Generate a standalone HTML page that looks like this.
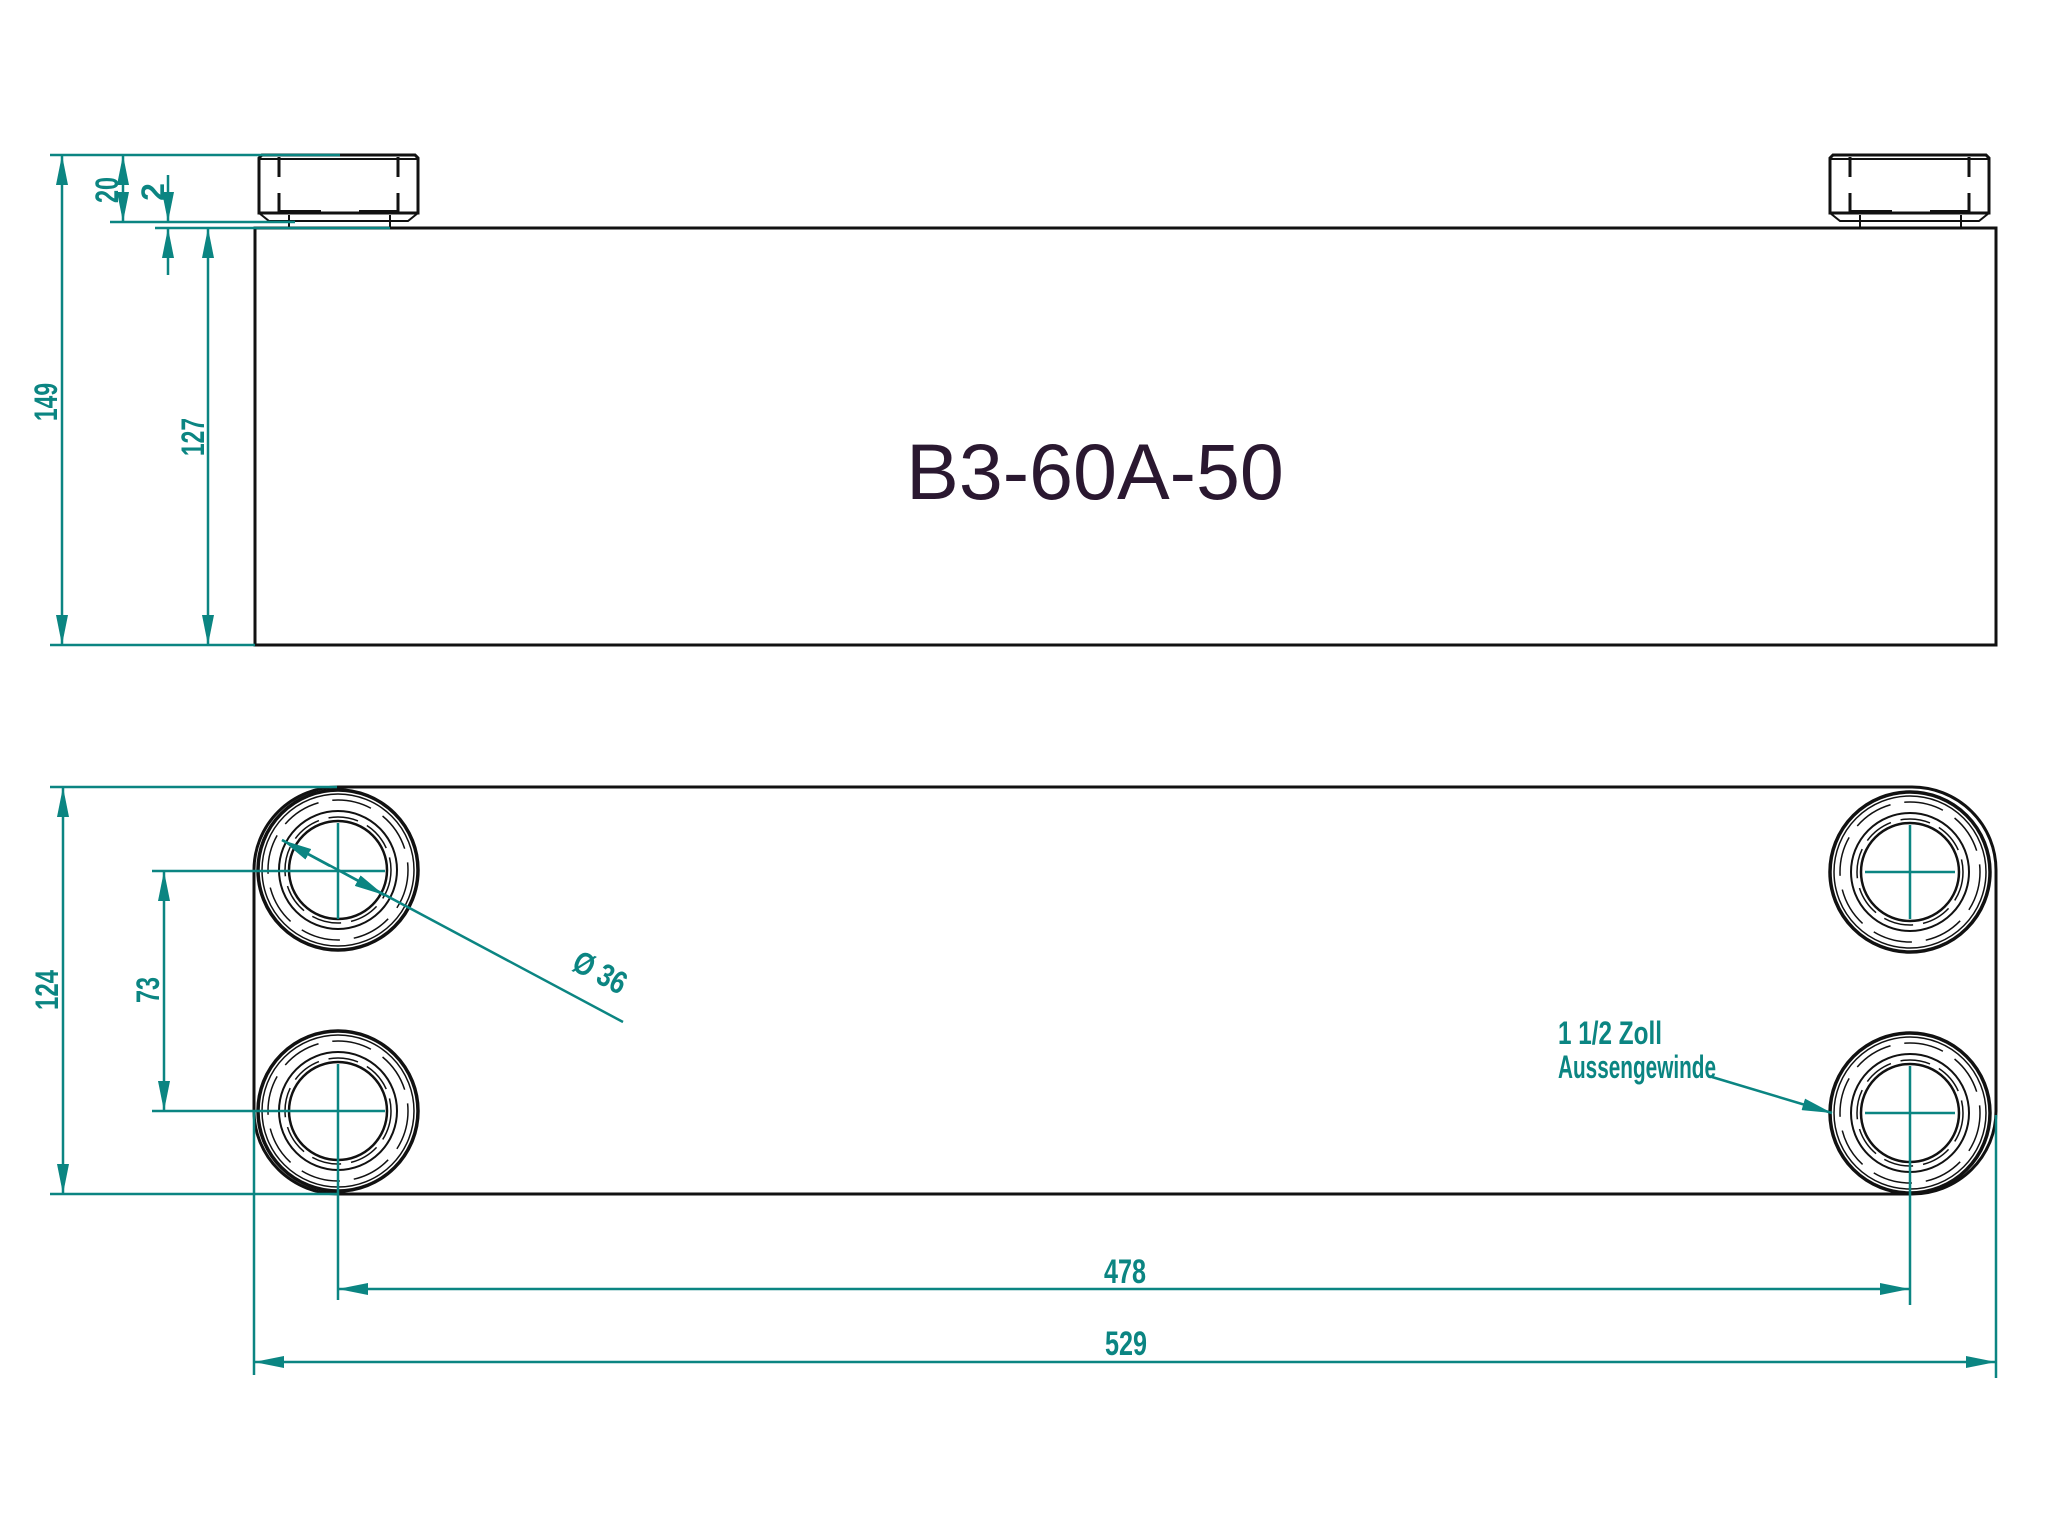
<!DOCTYPE html>
<html><head><meta charset="utf-8"><style>
html,body{margin:0;padding:0;background:#fff;}
svg{display:block;}
.t{fill:#0b8582;font-family:"Liberation Sans Narrow","Liberation Sans",sans-serif;font-weight:bold;}
</style></head><body>
<svg width="2048" height="1536" viewBox="0 0 2048 1536" xmlns="http://www.w3.org/2000/svg">
<defs>
<marker id="A" viewBox="0 0 30 12" markerWidth="30" markerHeight="12" refX="30" refY="6" orient="auto-start-reverse" markerUnits="userSpaceOnUse">
<path d="M0,0 L30,6 L0,12 Z" fill="#0b8582"/></marker>
<g id="hole">
<circle r="80" fill="none" stroke="#111" stroke-width="3.5"/>
<circle r="76" fill="none" stroke="#111" stroke-width="1.5"/>
<circle r="70" fill="none" stroke="#111" stroke-width="1.5" stroke-dasharray="40 14"/>
<circle r="59" fill="none" stroke="#111" stroke-width="2"/>
<circle r="53" fill="none" stroke="#111" stroke-width="1.5" stroke-dasharray="30 10"/>
<circle r="49" fill="none" stroke="#111" stroke-width="2.5"/>
</g>
<g id="nut">
<path d="M0,3 L3,0 L156,0 L159,3 L159,58 L0,58 Z" fill="none" stroke="#111" stroke-width="3"/>
<line x1="1" y1="4" x2="158" y2="4" stroke="#111" stroke-width="2"/>
<path d="M0,58 L10,66 L149,66 L159,58" fill="none" stroke="#111" stroke-width="2"/>
<line x1="20" y1="2" x2="20" y2="22" stroke="#111" stroke-width="3"/>
<line x1="20" y1="38" x2="20" y2="58" stroke="#111" stroke-width="3"/>
<line x1="139" y1="2" x2="139" y2="22" stroke="#111" stroke-width="3"/>
<line x1="139" y1="38" x2="139" y2="58" stroke="#111" stroke-width="3"/>
<line x1="20" y1="57" x2="62" y2="57" stroke="#111" stroke-width="4"/>
<line x1="100" y1="57" x2="139" y2="57" stroke="#111" stroke-width="4"/>
<line x1="30" y1="60" x2="30" y2="73" stroke="#111" stroke-width="2"/>
<line x1="131" y1="60" x2="131" y2="73" stroke="#111" stroke-width="2"/>
</g>
</defs>

<!-- TOP VIEW -->
<rect x="255" y="228" width="1741" height="417" fill="none" stroke="#111" stroke-width="3"/>
<use href="#nut" x="259" y="155"/>
<use href="#nut" x="1830" y="155"/>
<text x="1095" y="499" text-anchor="middle" font-family="Liberation Sans, sans-serif" font-size="79" fill="#2a1830">B3-60A-50</text>

<g stroke="#0b8582" stroke-width="2.5" fill="none">
<line x1="50" y1="155" x2="340" y2="155"/>
<line x1="110" y1="222" x2="295" y2="222"/>
<line x1="155" y1="228" x2="390" y2="228"/>
<line x1="50" y1="645" x2="255" y2="645"/>
<line x1="62" y1="155" x2="62" y2="645" marker-start="url(#A)" marker-end="url(#A)"/>
<line x1="123" y1="155" x2="123" y2="222" marker-start="url(#A)" marker-end="url(#A)"/>
<line x1="168" y1="175" x2="168" y2="222" marker-end="url(#A)"/>
<line x1="168" y1="275" x2="168" y2="228" marker-end="url(#A)"/>
<line x1="208" y1="228" x2="208" y2="645" marker-start="url(#A)" marker-end="url(#A)"/>
</g>
<text class="t" font-size="32" transform="translate(57,402) rotate(-90)" text-anchor="middle" textLength="38" lengthAdjust="spacingAndGlyphs">149</text>
<text class="t" font-size="32" transform="translate(204,437) rotate(-90)" text-anchor="middle" textLength="38" lengthAdjust="spacingAndGlyphs">127</text>
<text class="t" font-size="32" transform="translate(118,190) rotate(-90)" text-anchor="middle" textLength="26" lengthAdjust="spacingAndGlyphs">20</text>
<text class="t" font-size="32" transform="translate(164,192) rotate(-90)" text-anchor="middle">2</text>

<!-- BOTTOM VIEW -->
<rect x="254" y="787" width="1742" height="407" rx="84" ry="83" fill="none" stroke="#111" stroke-width="3"/>
<use href="#hole" x="338" y="870"/>
<use href="#hole" x="338" y="1111"/>
<use href="#hole" x="1910" y="872"/>
<use href="#hole" x="1910" y="1113"/>

<g stroke="#0b8582" stroke-width="2.5" fill="none">
<line x1="50" y1="787" x2="337" y2="787"/>
<line x1="50" y1="1194" x2="338" y2="1194"/>
<line x1="152" y1="871" x2="385" y2="871"/>
<line x1="152" y1="1111" x2="385" y2="1111"/>
<line x1="338" y1="823" x2="338" y2="919"/>
<line x1="338" y1="1064" x2="338" y2="1300"/>
<line x1="254" y1="1111" x2="254" y2="1375"/>
<line x1="1865" y1="872" x2="1955" y2="872"/>
<line x1="1910" y1="825" x2="1910" y2="919"/>
<line x1="1865" y1="1113" x2="1955" y2="1113"/>
<line x1="1910" y1="1066" x2="1910" y2="1305"/>
<line x1="1996" y1="1115" x2="1996" y2="1378"/>
<line x1="63" y1="787" x2="63" y2="1194" marker-start="url(#A)" marker-end="url(#A)"/>
<line x1="164" y1="871" x2="164" y2="1111" marker-start="url(#A)" marker-end="url(#A)"/>
<line x1="338" y1="1289" x2="1910" y2="1289" marker-start="url(#A)" marker-end="url(#A)"/>
<line x1="254" y1="1362" x2="1996" y2="1362" marker-start="url(#A)" marker-end="url(#A)"/>
<line x1="282" y1="840" x2="623" y2="1022"/>
<line x1="330" y1="866" x2="282" y2="840" marker-end="url(#A)"/>
<line x1="340" y1="871" x2="384" y2="895" marker-end="url(#A)"/>
<line x1="1712" y1="1077" x2="1832" y2="1113" marker-end="url(#A)"/>
</g>
<text class="t" font-size="32" transform="translate(58,990) rotate(-90)" text-anchor="middle" textLength="40" lengthAdjust="spacingAndGlyphs">124</text>
<text class="t" font-size="32" transform="translate(159,990) rotate(-90)" text-anchor="middle" textLength="26" lengthAdjust="spacingAndGlyphs">73</text>
<text class="t" font-size="34" x="1125" y="1283" text-anchor="middle" textLength="42" lengthAdjust="spacingAndGlyphs">478</text>
<text class="t" font-size="34" x="1126" y="1355" text-anchor="middle" textLength="42" lengthAdjust="spacingAndGlyphs">529</text>
<text class="t" font-size="32" transform="translate(595,982) rotate(28)" text-anchor="middle" textLength="56" lengthAdjust="spacingAndGlyphs">Ø 36</text>
<text class="t" font-size="32" x="1558" y="1044" textLength="104" lengthAdjust="spacingAndGlyphs">1 1/2 Zoll</text>
<text class="t" font-size="32" x="1558" y="1078" textLength="158" lengthAdjust="spacingAndGlyphs">Aussengewinde</text>
</svg>
</body></html>
